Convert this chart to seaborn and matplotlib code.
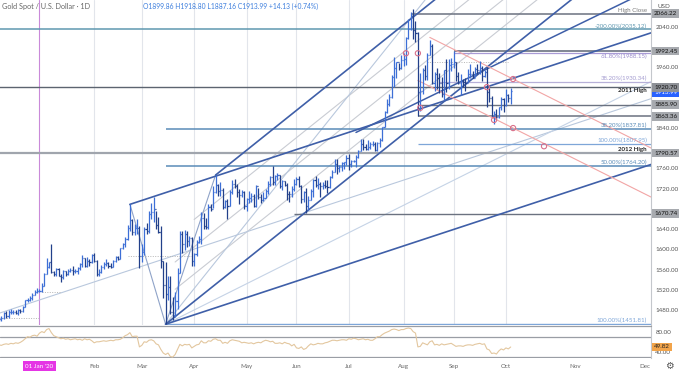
import numpy as np
import pandas as pd
import matplotlib
matplotlib.use("Agg")
import matplotlib.pyplot as plt
import matplotlib.transforms as mtransforms
import seaborn as sns

# ------------------------------------------------------------------ data
start_date = "2019-12-09"

close_dec = [1462,1464,1475,1469,1476,1476,1476,1475,1479,1478,1486,1499,1499,1504,1510,1515,1517]
high_dec  = [1466,1468,1477,1478,1479,1481,1480,1479,1481,1481,1488,1500,1503,1507,1514,1519,1524]
low_dec   = [1458,1459,1462,1465,1464,1473,1473,1472,1470,1474,1477,1485,1495,1497,1500,1509,1513]

close_jan = [1518,1528,1552,1566,1574,1556,1552,1562,1548,1545,1557,1552,1557,1560,1558,1558,1563,1571,1582,1568,1577,1575,1589]
high_jan  = [1522,1533,1553,1582,1575,1611,1558,1563,1563,1552,1560,1557,1561,1563,1567,1561,1565,1573,1588,1583,1584,1580,1590]
low_jan   = [1515,1516,1527,1552,1563,1553,1548,1548,1547,1536,1542,1548,1549,1555,1550,1553,1552,1559,1566,1565,1565,1567,1573]

close_feb = [1577,1551,1556,1566,1571,1573,1568,1566,1576,1584,1581,1602,1611,1620,1643,1659,1635,1642,1643,1586]
high_feb  = [1592,1578,1562,1569,1574,1580,1575,1572,1578,1586,1586,1603,1612,1625,1649,1689,1660,1651,1660,1646]
low_feb   = [1574,1548,1547,1553,1562,1568,1564,1563,1565,1574,1578,1580,1600,1604,1619,1637,1628,1629,1630,1563]

close_mar = [1594,1640,1637,1669,1673,1680,1649,1635,1576,1530,1511,1526,1477,1471,1498,1553,1631,1611,1630,1617,1622,1577]
high_mar  = [1610,1645,1652,1675,1692,1703,1675,1664,1646,1576,1574,1547,1547,1505,1516,1563,1637,1637,1639,1637,1627,1625]
low_mar   = [1574,1588,1631,1632,1661,1655,1640,1632,1564,1504,1451.81,1500,1473,1460,1467,1482,1553,1592,1599,1604,1607,1568]

close_apr = [1591,1614,1620,1663,1647,1645,1683,1680,1714,1727,1716,1717,1683,1695,1686,1713,1730,1726,1713,1707,1713,1686]
high_apr  = [1593,1618,1626,1673,1671,1662,1690,1689,1725,1747,1729,1734,1722,1698,1700,1717,1738,1739,1730,1719,1718,1716]
low_apr   = [1568,1587,1613,1611,1640,1641,1641,1676,1682,1712,1705,1706,1680,1681,1660,1686,1709,1722,1703,1690,1703,1680]

close_may = [1700,1701,1705,1686,1725,1703,1697,1702,1715,1730,1743,1733,1745,1747,1725,1735,1728,1710,1709,1719,1730]
high_may  = [1702,1716,1711,1709,1727,1722,1710,1713,1719,1735,1745,1765,1747,1751,1748,1737,1735,1731,1716,1725,1740]
low_may   = [1676,1691,1693,1684,1684,1699,1692,1695,1701,1710,1725,1727,1727,1737,1721,1718,1726,1698,1693,1704,1716]

close_jun = [1740,1726,1699,1714,1685,1698,1715,1737,1728,1730,1725,1727,1726,1723,1743,1754,1768,1761,1763,1771,1772,1781]
high_jun  = [1744,1745,1728,1716,1721,1705,1719,1739,1745,1742,1734,1734,1738,1737,1745,1757,1779,1779,1767,1772,1773,1786]
low_jun   = [1727,1723,1692,1694,1671,1678,1698,1704,1724,1719,1704,1720,1722,1712,1722,1742,1753,1750,1753,1755,1759,1767]

close_jul = [1769,1775,1775,1783,1795,1809,1803,1798,1802,1809,1809,1796,1810,1817,1842,1871,1887,1902,1941,1958,1970,1958,1975]
high_jul  = [1789,1776,1777,1786,1797,1818,1818,1808,1817,1813,1814,1812,1813,1821,1843,1874,1898,1907,1945,1981,1971,1969,1984]
low_jul   = [1757,1763,1773,1763,1781,1794,1797,1796,1797,1798,1805,1794,1795,1803,1815,1842,1869,1883,1900,1921,1939,1954,1956]

close_aug = [1976,2019,2037,2062,2035,2028,1911,1914,1954,1944,1985,2003,1929,1946,1940,1929,1907,1954,1930,1964,1967]
high_aug  = [1988,2020,2055,2070,2075,2051,2031,1949,1958,1964,1988,2015,2006,1951,1959,1949,1942,1954,1977,1976,1979]
low_aug   = [1963,1965,2016,2035,2016,2011,1863,1874,1908,1935,1936,1984,1928,1914,1917,1910,1901,1896,1911,1918,1953]

close_sep = [1970,1943,1930,1933,1932,1930,1946,1946,1940,1956,1954,1958,1944,1950,1912,1900,1863,1868,1862,1881,1898,1885]
high_sep  = [1992,1971,1951,1946,1937,1939,1956,1966,1952,1960,1966,1973,1962,1955,1960,1919,1903,1874,1877,1882,1901,1900]
low_sep   = [1959,1934,1927,1906,1922,1913,1931,1940,1940,1941,1947,1947,1933,1941,1882,1892,1863,1848,1857,1860,1875,1871]

close_oct = [1906,1899.86,1913.99]
high_oct  = [1917,1908,1918.80]
low_oct   = [1884,1891,1887.16]

rsi_values = [54,53,55,56,55,57,56,58,57,59,
              62,66,70,69,72,73,71,77,80,78,
              84,86,78,72,70,68,66,67,65,66,
              64,65,66,64,65,63,66,64,65,62,
              58,60,60,61,62,61,62,63,62,64,
              64,65,68,72,74,78,70,71,71,50,
              53,60,59,63,64,62,56,54,45,38,
              35,38,31,30,35,45,55,52,55,54,
              55,48,51,54,55,62,58,58,62,61,
              65,66,63,63,57,59,57,62,64,63,
              62,61,58,59,58,57,58,56,58,59,
              58,61,63,62,60,61,57,57,58,56,
              59,57,56,52,55,48,47,50,45,47,
              52,56,54,55,57,56,56,58,59,61,
              63,63,62,63,64,64,63,66,65,67,
              66,64,65,66,64,65,63,63,66,70,
              70,74,77,79,81,84,85,84,82,84,
              84,86,87,86,80,77,50,51,58,56,
              54,60,62,54,55,53,56,54,55,56,
              57,54,51,52,52,51,53,54,54,53,
              55,56,57,55,56,46,44,37,38,36,
              42,46,44,48,46,49.82]

month_labels = ["01 Jan '20", "Feb", "Mar", "Apr", "May", "Jun", "Jul", "Aug", "Sep", "Oct"]
future_labels = ["Nov", "Dec"]
price_ticks = [2040, 1960, 1840, 1760, 1720, 1640, 1600, 1560, 1520, 1480]

# horizontal levels: price, start date, colour, width
level_prices = [2066.22, 2035.12, 1992.45, 1988.15, 1931.00, 1920.70, 1885.90, 1863.36,
                1837.81, 1807.95, 1790.57, 1764.20, 1670.74, 1451.81]
level_starts = ["2020-08-06", "2019-12-09", "2020-09-01", "2020-09-01", "2020-08-24", "2019-12-09",
                "2020-08-12", "2020-08-11", "2020-03-16", "2020-08-11", "2019-12-09", "2020-03-16",
                "2020-05-29", "2020-03-16"]
level_colors = ["#6b7280", "#5f98b0", "#6b7280", "#a99bd6", "#b7b0d8", "#5c6470",
                "#6b7280", "#6b7280", "#5a8cb8", "#7ea6d8", "#a0a5ad", "#5a8cb8",
                "#6b7280", "#7ea6d8"]
level_widths = [1.1, 1.1, 1.2, 0.9, 0.9, 1.0, 1.0, 1.1, 1.1, 0.9, 1.6, 1.1, 1.0, 1.0]

# level captions: price, text, colour, vertical alignment
caption_prices = [2066.22, 2035.12, 1988.15, 1931.00, 1920.70, 1837.81, 1807.95, 1790.57, 1764.20, 1451.81]
caption_texts = ["High Close", "-200.00%(2035.12)", "61.80%(1988.15)", "38.20%(1930.34)", "2011 High",
                 "38.20%(1837.81)", "100.00%(1807.95)", "2012 High", "50.00%(1764.20)", "100.00%(1451.81)"]
caption_colors = ["#7a7a7a", "#5f98b0", "#9a8ccc", "#a49cd0", "#222222",
                  "#5a8cb8", "#7ea6d8", "#222222", "#5a8cb8", "#7ea6d8"]
caption_va = ["bottom", "bottom", "top", "bottom", "top", "bottom", "bottom", "bottom", "bottom", "bottom"]

# right-axis price flags
flag_prices = [2066.22, 1992.45, 1885.90, 1863.36, 1790.57, 1670.74]
current_price = 1913.99
level_2011 = 1920.70

# trend / channel drawings: anchor date, anchor price, slope (price per bar), start date, colour, width
line_anchor_dates = ["2020-04-14", "2020-03-16", "2020-02-24", "2020-03-16", "2020-08-24", "2020-10-06", "2020-10-06"]
line_anchor_prices = [1747.0, 1451.81, 1689.0, 1451.81, 1911.3, 1937.0, 1840.0]
line_slopes = [3.767, 3.767, 1.55, 1.55, 2.284, -2.355, -2.355]
line_starts = ["2020-04-14", "2020-03-16", "2020-02-24", "2020-03-16", "2020-07-06", "2020-08-18", "2020-08-11"]
line_colors = ["#3f5fa8", "#3f5fa8", "#3f5fa8", "#3f5fa8", "#3f5fa8", "#f2a5a5", "#f2a5a5"]
line_widths = [1.2, 1.2, 1.2, 1.2, 1.1, 0.8, 0.8]

# light pitchfork / fan lines
light_anchor_dates = ["2020-04-14", "2020-04-14", "2020-04-14", "2020-03-16", "2020-03-16", "2020-03-16"]
light_anchor_prices = [1693.0, 1639.0, 1585.0, 1582.0, 1451.81, 1451.81]
light_slopes = [3.767, 3.767, 3.767, 1.55, 5.886, 2.354]
light_starts = ["2020-04-01", "2020-03-20", "2020-03-20", "2019-12-09", "2020-03-16", "2020-03-16"]
light_colors = ["#c9ccd3", "#c9ccd3", "#c9ccd3", "#b9c8dd", "#b9c8dd", "#c5d3e6"]

# handle segments of the pitchfork
handle_dates = ["2020-02-24", "2020-03-16", "2020-04-14"]
handle_prices = [1689.0, 1451.81, 1747.0]

# dotted reference segments: price, start, end
dot_prices = [1464, 1516, 1587, 1971]
dot_starts = ["2019-12-09", "2020-01-02", "2020-02-21", "2020-08-17"]
dot_ends = ["2020-01-01", "2020-01-14", "2020-04-01", "2020-10-02"]

# pink circles
circle_dates = ["2020-08-04", "2020-08-11", "2020-08-12", "2020-09-21", "2020-09-24", "2020-10-06", "2020-10-06", "2020-10-23"]
circle_prices = [1988, 1988, 1880, 1921, 1856, 1937, 1840, 1804]

# ------------------------------------------------------------------ prep
close = np.array(close_dec + close_jan + close_feb + close_mar + close_apr + close_may +
                 close_jun + close_jul + close_aug + close_sep + close_oct, dtype=float)
high = np.array(high_dec + high_jan + high_feb + high_mar + high_apr + high_may +
                high_jun + high_jul + high_aug + high_sep + high_oct, dtype=float)
low = np.array(low_dec + low_jan + low_feb + low_mar + low_apr + low_may +
               low_jun + low_jul + low_aug + low_sep + low_oct, dtype=float)
n = len(close)
dates = pd.bdate_range(start_date, periods=n)
xi = np.arange(n)
opens = np.concatenate([[close[0]], close[:-1]])
df = pd.DataFrame({"i": xi[:len(rsi_values)], "rsi": rsi_values})


def bi(d):
    return float(np.busday_count(start_date, d))


X_LEFT, X_RIGHT = 0.42, 273.95
P_LOW, P_HIGH = 1450.3, 2093.4
AX_FS = 4.5

sns.set_theme(style="white")
plt.rcParams["font.family"] = ["Lato", "DejaVu Sans"]

W, H = 680, 371
fig = plt.figure(figsize=(W / 100, H / 100), dpi=100)
ax = fig.add_axes([0, (H - 325) / H, 651 / W, 325 / H])
ax2 = fig.add_axes([0, (H - 358) / H, 651 / W, 32 / H])

for a in (ax, ax2):
    a.set_xlim(X_LEFT, X_RIGHT)
    for s in ("top", "left", "bottom"):
        a.spines[s].set_visible(False)
    a.spines["right"].set_color("#c4c7cc")
    a.spines["right"].set_linewidth(0.8)
    a.set_facecolor("white")
ax.set_ylim(P_LOW, P_HIGH)
ax2.set_ylim(28.2, 91)

# month grid
month_first = [int(np.where((dates.month == m) & (dates.year == y))[0][0])
               for y, m in [(2020, 1), (2020, 2), (2020, 3), (2020, 4), (2020, 5), (2020, 6),
                            (2020, 7), (2020, 8), (2020, 9), (2020, 10)]]
future_pos = [242.0, 271.4]
for k, m in enumerate(month_first):
    ax.axvline(m, color="#c98ad9" if k == 0 else "#e2e5eb", lw=0.8, zorder=0)

# light lines
for d, p, s, st, c in zip(light_anchor_dates, light_anchor_prices, light_slopes, light_starts, light_colors):
    a0 = bi(d)
    x0 = bi(st)
    x1 = X_RIGHT + 5
    ax.plot([x0, x1], [p + s * (x0 - a0), p + s * (x1 - a0)], color=c, lw=0.8, zorder=1)
ax.plot([bi(d) for d in handle_dates], handle_prices, color="#8fa3c8", lw=0.8, zorder=1)

# dotted segments
for p, s0, s1 in zip(dot_prices, dot_starts, dot_ends):
    ax.plot([bi(s0), bi(s1)], [p, p], color="#b5b5b5", lw=0.7, ls=(0, (1, 1.5)), zorder=1)

# horizontal levels
for p, st, c, w in zip(level_prices, level_starts, level_colors, level_widths):
    ax.plot([bi(st), X_RIGHT + 5], [p, p], color=c, lw=w, zorder=2, solid_capstyle="butt")

# trend lines
for d, p, s, st, c, w in zip(line_anchor_dates, line_anchor_prices, line_slopes, line_starts, line_colors, line_widths):
    a0 = bi(d)
    x0 = bi(st)
    x1 = X_RIGHT + 5
    ax.plot([x0, x1], [p + s * (x0 - a0), p + s * (x1 - a0)], color=c, lw=w, zorder=2)

# OHLC bars
up = close >= opens
cols = np.where(up, "#3d6fd6", "#22408a")
ax.vlines(xi, low, high, colors=cols, lw=0.9, zorder=3)
ax.hlines(close, xi, xi + 0.45, colors=cols, lw=0.9, zorder=3)
ax.hlines(opens, xi - 0.45, xi, colors=cols, lw=0.9, zorder=3)

# circles
ax.scatter([bi(d) for d in circle_dates], circle_prices, s=14, facecolors="none",
           edgecolors="#d9708a", linewidths=0.8, zorder=4)

# captions
tr = mtransforms.blended_transform_factory(ax.transAxes, ax.transData)
for p, t, c, va in zip(caption_prices, caption_texts, caption_colors, caption_va):
    bold = t.endswith("High")
    ax.text(647 / 651, p + (1.5 if va == "bottom" else -1.5), t, transform=tr, ha="right", va=va,
            fontsize=4.4, color=c, fontweight="bold" if bold else "normal", zorder=5)

# right price axis
ax.yaxis.tick_right()
ax.set_yticks(price_ticks)
ax.set_yticklabels([f"{v:.2f}" for v in price_ticks])
ax.tick_params(axis="y", length=0, pad=3.2, labelsize=AX_FS, labelcolor="#555555")
ax.set_xticks([])
ax.grid(False)

fx = 1.0 + 3 / 651
box_kw = dict(transform=tr, ha="left", va="center", fontsize=AX_FS, clip_on=False)
ax.text(fx, current_price - 3, f"{current_price:.2f}", color="white", zorder=6,
        bbox=dict(boxstyle="square,pad=0.3", fc="#2962ff", ec="none"), **box_kw)
ax.text(fx, level_2011, f"{level_2011:.2f}", color="#111111", zorder=7,
        bbox=dict(boxstyle="square,pad=0.3", fc="#8e9197", ec="none"), **box_kw)
for p in flag_prices:
    ax.text(fx, p, f"{p:.2f}", color="#111111", zorder=7,
            bbox=dict(boxstyle="square,pad=0.3", fc="#a7aaaf", ec="none"), **box_kw)

# header
fig.text(2 / W, 1 - 6 / H, "Gold Spot / U.S. Dollar · 1D", fontsize=5.2, color="#666666", va="center")
fig.text(143 / W, 1 - 6 / H, "O1899.86 H1918.80 L1887.16 C1913.99 +14.13 (+0.74%)",
         fontsize=4.9, color="#3b7ddd", va="center")
fig.text(657 / W, 1 - 6 / H, "USD", fontsize=AX_FS, color="#555555", va="center")

# RSI panel
ax2.axhline(70, color="#9a9ea5", lw=0.9, zorder=1)
ax2.axhline(30, color="#9a9ea5", lw=0.9, zorder=1)
sns.lineplot(data=df, x="i", y="rsi", ax=ax2, color="#e3c79f", lw=0.8, zorder=2, legend=False)
ax2.set_xlabel("")
ax2.set_ylabel("")
ax2.yaxis.tick_right()
ax2.set_yticks([80, 40])
ax2.set_yticklabels(["80.00", "40.00"])
ax2.tick_params(axis="y", length=0, pad=3.2, labelsize=AX_FS, labelcolor="#555555")
tr2 = mtransforms.blended_transform_factory(ax2.transAxes, ax2.transData)
ax2.text(fx, rsi_values[-1], f"{rsi_values[-1]:.2f}", transform=tr2, ha="left", va="center",
         fontsize=AX_FS, color="#222222", clip_on=False, zorder=7,
         bbox=dict(boxstyle="square,pad=0.3", fc="#f2a44a", ec="none"))
ax2.grid(False)
fig.add_artist(plt.Line2D([0, 651 / W], [1 - 325.5 / H, 1 - 325.5 / H], color="#9a9ea5", lw=0.9))

ticks = month_first + future_pos
ax2.set_xticks(ticks)
ax2.set_xticklabels(month_labels + future_labels)
ax2.tick_params(axis="x", length=0, pad=4, labelsize=AX_FS, labelcolor="#666666")
lab0 = ax2.get_xticklabels()[0]
lab0.set_color("white")
lab0.set_bbox(dict(boxstyle="square,pad=0.35", fc="#e535e5", ec="none"))

fig.text(669 / W, 1 - 366 / H, "\u2699", fontsize=7, color="#555555", ha="center", va="center",
         family="DejaVu Sans")

fig.savefig("out.png", dpi=100)
